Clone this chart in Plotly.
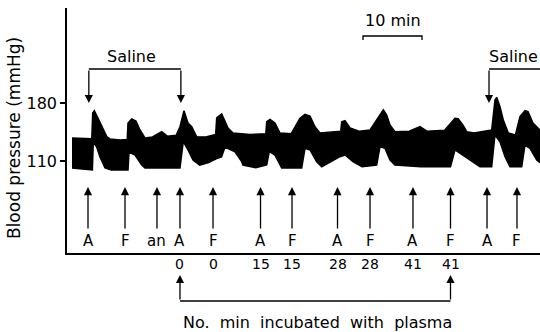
import plotly.graph_objects as go

# ---- data (time in minutes, pressure in mmHg) ----
upper_t = [0.85, 2.5, 4.2, 4.36, 4.63, 5.25, 5.93, 6.78, 7.29, 9.0, 10.2, 10.34, 10.97, 11.69, 12.37,
           13.22, 14.5, 16.05, 17.0, 18.5, 19.15, 19.83, 20.51, 21.14, 21.98, 23.5, 25.2, 25.37, 26.22,
           26.78, 27.29, 28.14, 31.0, 33.7, 33.85, 34.41, 35.25, 36.1, 38.0, 39.49, 40.34, 41.19, 42.03,
           42.88, 45.0, 46.4, 46.56, 47.12, 47.97, 49.5, 51.36, 52.49, 53.61, 54.19, 54.75, 55.59, 58.0,
           59.83, 61.0, 64.0, 65.76, 66.3, 67.12, 67.75, 69.0, 71.98, 72.54, 72.83, 73.39, 73.95, 74.8,
           76.0, 76.78, 77.63, 78.14, 78.98, 80.17]
upper_v = [137.8, 137.8, 137.0, 167.9, 170.7, 161.9, 151.0, 139.0, 136.6, 135.3, 136.0, 155.9, 160.7, 158.3, 147.4,
           137.8, 139.0, 145.4, 140.0, 141.0, 151.4, 170.7, 155.9, 151.4, 139.3, 139.0, 142.0, 161.9, 166.7,
           157.4, 149.8, 143.8, 142.0, 143.0, 157.4, 160.3, 155.9, 143.8, 143.0, 161.5, 166.4, 164.3, 151.4,
           143.8, 145.0, 146.0, 157.4, 158.6, 149.8, 146.0, 147.4, 159.5, 171.6, 165.5, 153.4, 145.4, 146.0,
           151.4, 146.0, 147.0, 161.5, 161.0, 153.4, 145.4, 143.8, 147.4, 183.6, 186.9, 175.5, 159.5, 143.8,
           141.4, 163.5, 170.7, 169.5, 155.9, 147.4]

lower_t = [0.85, 4.3, 4.46, 5.03, 5.59, 6.44, 7.5, 10.34, 10.51, 11.53, 12.66, 13.22, 16.0, 19.15, 19.71,
           20.51, 21.36, 22.5, 24.0, 25.37, 26.2, 26.78, 28.47, 29.61, 29.83, 32.0, 33.85, 34.29, 35.25,
           36.39, 39.78, 40.34, 41.19, 42.32, 43.17, 46.27, 47.12, 48.47, 50.0, 52.49, 53.05, 53.9, 54.75,
           55.59, 60.0, 65.0, 65.76, 68.31, 70.0, 71.98, 72.54, 73.39, 74.24, 75.08, 77.07, 77.63, 78.47,
           79.61, 80.17]
lower_v = [101.6, 99.1, 132.9, 126.9, 114.8, 101.6, 99.1, 99.1, 120.9, 117.2, 105.2, 101.6, 101.6, 101.6, 133.3,
           123.3, 111.2, 105.0, 108.0, 113.0, 115.0, 126.9, 121.2, 109.2, 105.2, 102.0, 105.2, 121.2, 117.2,
           101.6, 101.6, 125.3, 123.3, 109.2, 103.1, 115.2, 117.2, 109.2, 103.0, 105.2, 127.3, 125.3, 111.2,
           105.2, 103.1, 103.0, 123.3, 111.2, 103.1, 103.1, 141.4, 133.3, 115.2, 103.1, 103.1, 129.3, 125.3,
           111.2, 108.0]

event_t = [3.56, 9.83, 15.25, 19.15, 24.75, 32.8, 38.14, 45.85, 51.36, 58.64, 65.0, 71.19, 76.27]
event_labels = ["A", "F", "an", "A", "F", "A", "F", "A", "F", "A", "F", "A", "F"]
incub_labels = ["", "", "", "0", "0", "15", "15", "28", "28", "41", "41", "", ""]
saline_t = [(3.7, 19.3), (71.53, 82.0)]
scale_bar_t = (50.17, 60.17)
ytick_vals = [110, 180]

# ---- layout helpers ----
W, H = 540, 332
L, R, T, B = 67, 0, 8, 79
def py(ypx):  # pixel row -> paper y
    return (H - B - ypx) / (H - T - B)

FONT = dict(family="DejaVu Sans", color="black")
ARW = dict(arrowhead=2, arrowsize=1.25, arrowwidth=1.3, arrowcolor="black")

fig = go.Figure()
fig.add_trace(go.Scatter(
    x=upper_t + lower_t[::-1], y=upper_v + lower_v[::-1],
    fill="toself", fillcolor="black", mode="lines",
    line=dict(color="black", width=1.5), hoverinfo="skip", showlegend=False))

ann = []
shapes = []
# up arrows with labels
for t, lab, num in zip(event_t, event_labels, incub_labels):
    ann.append(dict(x=t, y=py(187), xref="x", yref="paper", text="", showarrow=True,
                    ax=0, ay=43, **ARW))
    ann.append(dict(x=t, y=py(241), xref="x", yref="paper", text=lab, showarrow=False,
                    font=dict(size=15, **FONT), yanchor="middle"))
    if num:
        ann.append(dict(x=t, y=py(264), xref="x", yref="paper", text=num, showarrow=False,
                        font=dict(size=14, **FONT), yanchor="middle"))

# incubation bracket
i0, i1 = event_t[3], event_t[10]
for t in (i0, i1):
    ann.append(dict(x=t, y=py(275), xref="x", yref="paper", text="", showarrow=True,
                    ax=0, ay=26, **ARW))
shapes.append(dict(type="line", xref="x", yref="paper", x0=i0, x1=i1, y0=py(301), y1=py(301),
                   line=dict(color="black", width=1.3)))
ann.append(dict(x=(i0 + i1) / 2 + 0.3, y=py(322), xref="x", yref="paper",
                text="No.  min  incubated  with  plasma", showarrow=False,
                font=dict(size=16, **FONT), yanchor="middle"))

# saline brackets (arrows pointing down)
for s0, s1 in saline_t:
    shapes.append(dict(type="line", xref="x", yref="paper", x0=s0, x1=s1, y0=py(69), y1=py(69),
                       line=dict(color="black", width=1.3)))
    for t in (s0, s1):
        ann.append(dict(x=t, y=py(103), xref="x", yref="paper", text="", showarrow=True,
                        ax=0, ay=-34, **ARW))
ann.append(dict(x=10.9, y=py(57), xref="x", yref="paper", text="Saline", showarrow=False,
                font=dict(size=16, **FONT), yanchor="middle"))
ann.append(dict(x=75.7, y=py(57), xref="x", yref="paper", text="Saline", showarrow=False,
                font=dict(size=16, **FONT), yanchor="middle"))

# 10 min scale bar
b0, b1 = scale_bar_t
shapes.append(dict(type="path", xref="x", yref="paper",
                   path=f"M {b0},{py(40)} L {b0},{py(36)} L {b1},{py(36)} L {b1},{py(40)}",
                   line=dict(color="black", width=1.3)))
ann.append(dict(x=(b0 + b1) / 2, y=py(21), xref="x", yref="paper", text="10 min", showarrow=False,
                font=dict(size=16, **FONT), yanchor="middle"))

# y title
ann.append(dict(x=-0.112, y=py(138), xref="paper", yref="paper", text="Blood pressure (mmHg)",
                textangle=-90, showarrow=False, font=dict(size=17, **FONT),
                xanchor="center", yanchor="middle"))

fig.update_layout(
    width=W, height=H, margin=dict(l=L, r=R, t=T, b=B),
    paper_bgcolor="white", plot_bgcolor="white",
    annotations=ann, shapes=shapes, showlegend=False,
    xaxis=dict(range=[0, 80.17], showline=True, linecolor="black", linewidth=1.5,
               showticklabels=False, ticks="", showgrid=False, zeroline=False),
    yaxis=dict(range=[-1.03, 294.66], showline=True, linecolor="black", linewidth=1.5,
               tickvals=ytick_vals, ticktext=[str(v) for v in ytick_vals], ticks="outside",
               ticklen=5, tickwidth=1.5, tickcolor="black", showgrid=False, zeroline=False,
               tickfont=dict(size=16, **FONT)),
)
fig.write_html("out.html")
